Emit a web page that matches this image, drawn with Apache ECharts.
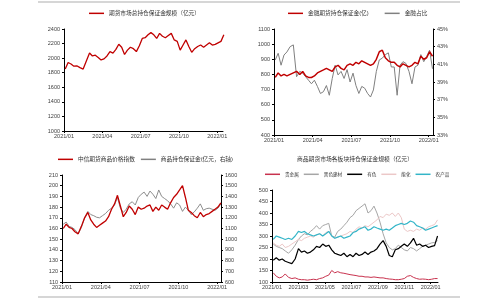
<!DOCTYPE html>
<html><head><meta charset="utf-8">
<script src="https://cdn.jsdelivr.net/npm/echarts@6/dist/echarts.min.js"></script>
<style>html,body{margin:0;padding:0;background:#fff}#c{width:500px;height:300px}</style>
</head><body><div id="c"></div>
<script>
const dates = ['2021-01-04','2021-01-11','2021-01-18','2021-01-25','2021-02-01','2021-02-08','2021-02-15','2021-02-22','2021-03-01','2021-03-08','2021-03-15','2021-03-22','2021-03-29','2021-04-05','2021-04-12','2021-04-19','2021-04-26','2021-05-03','2021-05-10','2021-05-17','2021-05-24','2021-05-31','2021-06-07','2021-06-14','2021-06-21','2021-06-28','2021-07-05','2021-07-12','2021-07-19','2021-07-26','2021-08-02','2021-08-09','2021-08-16','2021-08-23','2021-08-30','2021-09-06','2021-09-13','2021-09-20','2021-09-27','2021-10-04','2021-10-11','2021-10-18','2021-10-25','2021-11-01','2021-11-08','2021-11-15','2021-11-22','2021-11-29','2021-12-06','2021-12-13','2021-12-20','2021-12-27','2022-01-03','2022-01-10','2022-01-17'];

const totalMargin = [1850,1940,1920,1890,1895,1870,1850,1960,2070,2030,2040,2010,1975,1990,2030,2090,2070,2120,2190,2150,2050,2110,2150,2130,2090,2170,2270,2280,2320,2350,2320,2270,2340,2300,2280,2310,2340,2250,2230,2110,2180,2250,2160,2080,2130,2160,2180,2150,2180,2210,2180,2190,2210,2230,2320];

const finMargin = [780,810,790,800,790,800,810,820,800,820,790,780,780,790,810,820,830,840,830,820,850,860,840,830,860,870,860,880,870,890,880,870,860,870,900,950,960,910,890,880,880,860,850,870,860,850,860,880,870,920,900,910,950,920,null];
const finShare = [41.5,42.25,40.9,42.05,42.4,43.0,43.2,39.6,40.2,40.0,39.6,39.2,38.8,39.2,38.5,37.7,37.9,38.6,37.5,39.4,40.9,39.8,40.2,39.4,40.4,39.0,40.0,38.6,37.7,38.5,38.3,37.7,37.3,38.1,40.2,41.5,41.7,42.1,42.3,40.7,40.7,37.5,40.9,41.3,41.1,40.2,38.8,40.7,40.9,42.1,41.3,41.9,42.6,40.5,null];

const citicIndex = [160,164,161,160,157,155,162,170,175,168,164,161,163,165,167,171,178,183,191,181,171,175,181,178,173,180,178,179,181,182,176,180,177,182,180,178,184,189,192,196,200,189,177,175,172,170,175,171,173,174,176,178,180,184,null];
const commodityMargin = [1140,1160,1120,1110,1090,1050,1110,1200,1260,1230,1220,1205,1200,1220,1240,1270,1290,1320,1390,1290,1250,1280,1330,1350,1320,1390,1420,1440,1400,1450,1420,1380,1460,1400,1380,1360,1330,1290,1340,1320,1260,1300,1270,1230,1255,1290,1330,1270,1285,1290,1280,1270,1290,1330,null];

const precious = [140,125,118,122,135,120,115,118,112,110,110,108,110,112,110,115,118,125,130,150,140,145,140,138,135,132,130,128,125,125,122,122,120,122,120,118,118,115,113,112,110,110,112,115,125,128,120,115,112,113,112,110,112,115,115];
const ferrous = [265,255,250,245,235,225,240,260,285,300,310,305,320,330,345,330,345,350,355,300,295,320,330,345,360,380,390,410,420,430,440,400,410,430,400,360,310,270,250,240,245,260,250,240,235,250,245,235,245,255,260,265,270,272,280];
const nonferrous = [195,205,195,200,190,185,180,200,245,230,235,225,230,240,255,250,265,255,260,240,225,220,215,225,210,220,210,225,215,220,230,220,230,235,245,265,280,255,215,210,240,245,255,265,255,270,290,260,265,255,260,250,255,258,300];
const energy = [270,260,255,265,250,255,265,275,285,280,290,295,300,295,305,310,300,315,320,300,290,295,300,305,310,320,315,330,340,335,345,340,350,360,370,385,380,395,390,400,385,400,380,330,320,325,320,330,325,335,330,340,345,350,370];
const agri = [285,300,295,290,285,290,285,300,320,315,320,310,305,300,305,310,300,310,320,300,290,295,300,290,295,300,315,320,330,335,340,325,330,340,335,330,325,330,325,335,345,350,355,350,355,365,360,345,340,335,325,330,335,340,345];

const names = {
  total: '期货市场总持仓保证金规模（亿元）',
  fin: '金融期货持仓保证金(亿)', share: '金融占比',
  idx: '中信期货商品价格指数', com: '商品持仓保证金(亿元，右轴)',
  brTitle: '商品期货市场各板块持仓保证金规模（亿元）',
  sectors: ['贵金属','黑色建材','有色','能化','农产品']
};

function toMonth(s){const [y,m,d]=s.split('-').map(Number);const dim=new Date(y,m,0).getDate();return (y-2021)*12+(m-1)+(d-1)/dim;}
function pairs(v){return dates.map((d,i)=>[toMonth(d), v[i]]);}
function monthLabel(v){const y=2021+Math.floor(v/12);const m=Math.round(v-(y-2021)*12)+1;return y+'/'+String(m).padStart(2,'0');}

const FF = '"Liberation Sans","Noto Sans CJK SC",sans-serif';
const axisLine = {lineStyle:{color:'#000',width:1}};
const lbl = {fontSize:5.5,color:'#404040',fontFamily:FF};
function xAx(grid,max,interval){return {type:'value',gridIndex:grid,min:0,max:max,interval:interval,axisLine:axisLine,axisTick:{show:true,length:2,lineStyle:{color:'#000'}},splitLine:{show:false},axisLabel:Object.assign({margin:3,showMaxLabel:false,formatter:monthLabel},lbl)};}
function yAx(grid,min,max,interval,pos,fmt){return {type:'value',gridIndex:grid,min:min,max:max,interval:interval,position:pos||'left',axisLine:Object.assign({show:true},axisLine),axisTick:{show:true,length:2,lineStyle:{color:'#000'}},splitLine:{show:false},axisLabel:Object.assign({margin:4,formatter:fmt||(v=>String(v))},lbl)};}
const legText = {fontSize:5.7,color:'#333',fontFamily:FF};
function leg(data,left,top,gap,fs){return {data:data,left:left,top:top,padding:0,itemGap:gap,icon:'rect',itemWidth:15,itemHeight:1.5,textStyle:Object.assign({},legText,fs?{fontSize:fs}:{}),selectedMode:false};}
function line(name,x,y,data,color,w){return {name:name,type:'line',xAxisIndex:x,yAxisIndex:y,data:pairs(data),showSymbol:false,symbol:'none',lineStyle:{color:color,width:w},itemStyle:{color:color},connectNulls:false};}

const chart = echarts.init(document.getElementById('c'),null,{renderer:'canvas'});
chart.setOption({
  animation:false,
  backgroundColor:'#fff',
  title:{text:names.brTitle,left:297,top:156,padding:0,textStyle:{fontSize:5.8,fontWeight:'normal',color:'#333',fontFamily:FF}},
  grid:[
    {left:64,right:277,top:29,bottom:169},
    {left:274,right:67,top:29,bottom:165},
    {left:62,right:279,top:175,bottom:18},
    {left:272,right:62,top:190,bottom:18}
  ],
  xAxis:[xAx(0,12.45,3),xAx(1,12.33,3),xAx(2,12.3,3),xAx(3,12.55,2)],
  yAxis:[
    yAx(0,1000,2400,200),
    yAx(1,400,1100,100),
    yAx(1,33,45,2,'right',v=>v+'%'),
    yAx(2,110,210,10),
    yAx(2,600,1600,100,'right'),
    yAx(3,100,500,50)
  ],
  legend:[
    leg([names.total],89,10.5,10),
    leg([names.fin,names.share],288,10.5,16),
    leg([names.idx,names.com],58,156.5,6),
    leg(names.sectors,265,172,5,4.6)
  ],
  graphic:[
    {type:'line',shape:{x1:38,y1:2,x2:460,y2:2},style:{stroke:'#c8c8c8',lineWidth:1.5}},
    {type:'line',shape:{x1:38,y1:297,x2:460,y2:297},style:{stroke:'#c8c8c8',lineWidth:1.5}}
  ],
  series:[
    line(names.total,0,0,totalMargin,'#c00000',1.3),
    line(names.share,1,2,finShare,'#808080',1),
    line(names.fin,1,1,finMargin,'#c00000',1.5),
    line(names.com,2,4,commodityMargin,'#808080',0.9),
    line(names.idx,2,3,citicIndex,'#c00000',1.3),
    line(names.sectors[0],3,5,precious,'#c8324e',1),
    line(names.sectors[1],3,5,ferrous,'#a6a6a6',1),
    line(names.sectors[3],3,5,energy,'#ecc8c8',1),
    line(names.sectors[4],3,5,agri,'#33b5c8',1.2),
    line(names.sectors[2],3,5,nonferrous,'#000000',1.2)
  ]
});
</script></body></html>
